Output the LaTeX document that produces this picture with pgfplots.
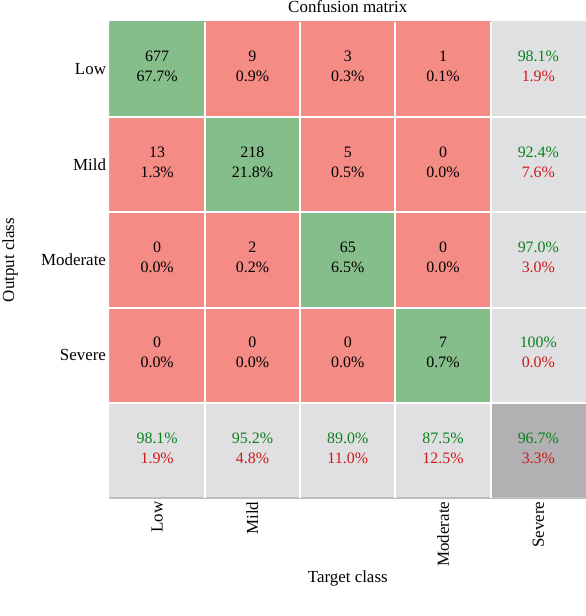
\documentclass[border=0pt]{standalone}
\usepackage{fontspec}
\setmainfont{Liberation Serif}
\usepackage{pgfplots}
\pgfplotsset{compat=1.18}
\definecolor{tgreen}{RGB}{10,130,30}
\definecolor{tred}{RGB}{205,25,25}
\definecolor{bline}{RGB}{190,190,190}
\newcommand{\cellfont}{\fontsize{16}{19}\selectfont}
\newcommand{\labfont}{\fontsize{17}{20}\selectfont}
\begin{document}
\begin{tikzpicture}
\begin{axis}[
  scale only axis, width=476.5bp, height=476.5bp,
  xmin=-0.5, xmax=4.5, ymin=-0.5, ymax=4.5,
  xtick={0,1,3,4}, xticklabels={Low,Mild,Moderate,Severe},
  ytick={1,2,3,4}, yticklabels={Severe,Moderate,Mild,Low},
  tick label style={font=\labfont},
  x tick label style={rotate=90, anchor=east},
  major tick length=0pt, minor tick length=0pt,
  minor xtick={0.5,1.5,2.5,3.5}, minor ytick={0.5,1.5,2.5,3.5},
  xminorgrids=true, yminorgrids=true,
  minor grid style={white, line width=2bp},
  axis on top,
  axis line style={draw=none},
  colormap={cm}{rgb255=(134,190,139) rgb255=(244,140,133) rgb255=(224,224,226) rgb255=(178,176,178)},
  colormap access=direct,
  title={Confusion matrix},
  every axis title shift=0pt,
  title style={font=\labfont, at={(rel axis cs:0.5,1)}, anchor=base, yshift=9bp},
  xlabel={Target class},
  xlabel style={font=\labfont, at={(rel axis cs:0.5,-0.1765)}, anchor=base},
  ylabel={Output class},
  ylabel style={font=\labfont, at={(rel axis cs:-0.2088,0.5)}, anchor=center},
]
\addplot[matrix plot*, mesh/cols=5, point meta=explicit, colormap access=direct] table[meta=c] {
x y c
0 0 2
1 0 2
2 0 2
3 0 2
4 0 3
0 1 1
1 1 1
2 1 1
3 1 0
4 1 2
0 2 1
1 2 1
2 2 0
3 2 1
4 2 2
0 3 1
1 3 0
2 3 1
3 3 1
4 3 2
0 4 0
1 4 1
2 4 1
3 4 1
4 4 2
};
\draw[bline, line width=1.5bp] (rel axis cs:0,0) -- (rel axis cs:1,0);
% counts (black, top line)
\addplot[draw=none, nodes near coords, point meta=explicit symbolic,
  every node near coord/.style={anchor=base, yshift=7.5bp, font=\cellfont, text=black}]
  table[meta=t] {
x y t
0 4 677
1 4 9
2 4 3
3 4 1
0 3 13
1 3 218
2 3 5
3 3 0
0 2 0
1 2 2
2 2 65
3 2 0
0 1 0
1 1 0
2 1 0
3 1 7
};
% percents (black, bottom line)
\addplot[draw=none, nodes near coords={\pgfplotspointmeta\%}, point meta=explicit symbolic,
  every node near coord/.style={anchor=base, yshift=-12.5bp, font=\cellfont, text=black}]
  table[meta=t] {
x y t
0 4 67.7
1 4 0.9
2 4 0.3
3 4 0.1
0 3 1.3
1 3 21.8
2 3 0.5
3 3 0.0
0 2 0.0
1 2 0.2
2 2 6.5
3 2 0.0
0 1 0.0
1 1 0.0
2 1 0.0
3 1 0.7
};
% summary, green
\addplot[draw=none, nodes near coords={\pgfplotspointmeta\%}, point meta=explicit symbolic,
  every node near coord/.style={anchor=base, yshift=7.5bp, font=\cellfont, text=tgreen}]
  table[meta=t] {
x y t
4 4 98.1
4 3 92.4
4 2 97.0
4 1 100
0 0 98.1
1 0 95.2
2 0 89.0
3 0 87.5
4 0 96.7
};
% summary, red
\addplot[draw=none, nodes near coords={\pgfplotspointmeta\%}, point meta=explicit symbolic,
  every node near coord/.style={anchor=base, yshift=-12.5bp, font=\cellfont, text=tred}]
  table[meta=t] {
x y t
4 4 1.9
4 3 7.6
4 2 3.0
4 1 0.0
0 0 1.9
1 0 4.8
2 0 11.0
3 0 12.5
4 0 3.3
};
\end{axis}
\pgfresetboundingbox
\path ([shift={(-109.5bp,-117.8bp)}]current axis.south west) rectangle ([shift={(0bp,21.7bp)}]current axis.north east);
\end{tikzpicture}
\end{document}
